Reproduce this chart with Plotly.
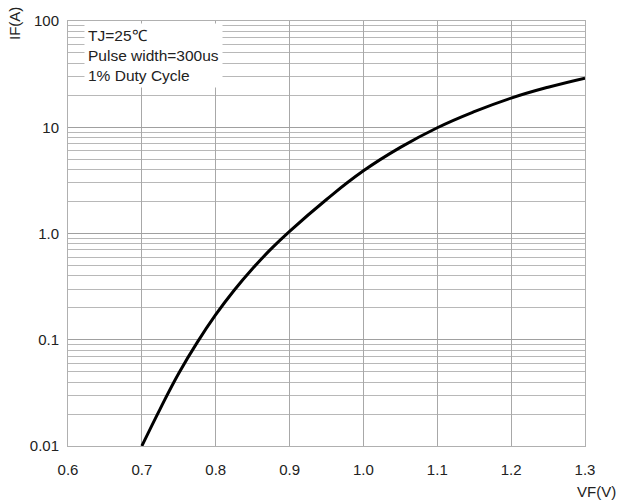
import plotly.graph_objects as go

# Forward voltage (V) and forward current (A)
vf = [0.70, 0.725, 0.75, 0.775, 0.80, 0.825, 0.85, 0.875, 0.90, 0.95, 1.00, 1.05, 1.10, 1.15, 1.20, 1.25, 1.30]
i_f = [0.01, 0.0225, 0.0484, 0.0944, 0.172, 0.292, 0.468, 0.716, 1.047, 2.09, 3.89, 6.46, 9.89, 14.0, 18.8, 23.8, 29.0]

x_ticks = [0.6, 0.7, 0.8, 0.9, 1.0, 1.1, 1.2, 1.3]
x_tick_text = ["0.6", "0.7", "0.8", "0.9", "1.0", "1.1", "1.2", "1.3"]
y_ticks = [0.01, 0.1, 1, 10, 100]
y_tick_text = ["0.01", "0.1", "1.0", "10", "100"]
minor_y = [k * 10.0 ** e for e in range(-2, 2) for k in range(2, 10)]

font_family = "Liberation Sans, Arial, sans-serif"
txt = "#222222"

fig = go.Figure()
fig.add_trace(go.Scatter(
    x=vf, y=i_f, mode="lines",
    line=dict(color="black", width=3, shape="spline", smoothing=1.3),
    showlegend=False, hoverinfo="skip",
))

fig.update_layout(
    width=620, height=502,
    margin=dict(l=68, r=35, t=16, b=56),
    paper_bgcolor="white", plot_bgcolor="white",
    font=dict(family=font_family, size=15, color=txt),
    xaxis=dict(
        range=[0.6, 1.3], tickvals=x_ticks, ticktext=x_tick_text,
        showgrid=True, gridcolor="#a8a8a8", gridwidth=1,
        showline=True, linecolor="#b0b0b0", linewidth=1, mirror=True,
        ticks="", ticklabelstandoff=10, zeroline=False,
        tickfont=dict(size=15, color=txt),
    ),
    yaxis=dict(
        type="log", range=[-2, 2], tickvals=y_ticks, ticktext=y_tick_text,
        showgrid=True, gridcolor="#a0a0a0", gridwidth=1,
        minor=dict(tickvals=minor_y, showgrid=True, gridcolor="#b8b8b8", gridwidth=1, ticks=""),
        showline=True, linecolor="#b0b0b0", linewidth=1, mirror=True,
        ticks="", ticklabelstandoff=5, zeroline=False,
        tickfont=dict(size=15, color=txt),
    ),
    annotations=[
        dict(text="IF(A)", xref="paper", yref="paper", x=-0.1025, y=0.993,
             xanchor="center", yanchor="middle", textangle=-90, showarrow=False,
             font=dict(size=15, color=txt)),
        dict(text="VF(V)", xref="paper", yref="paper", x=1.064, y=-0.107,
             xanchor="right", yanchor="middle", showarrow=False,
             font=dict(size=15, color=txt)),
        dict(text="TJ=25℃<br>Pulse width=300us<br>1% Duty Cycle",
             xref="paper", yref="paper", x=0.03, y=0.995,
             xanchor="left", yanchor="top", align="left", showarrow=False,
             bgcolor="white", borderpad=3,
             font=dict(size=15.5, color=txt)),
    ],
)

fig.write_html("out.html")
